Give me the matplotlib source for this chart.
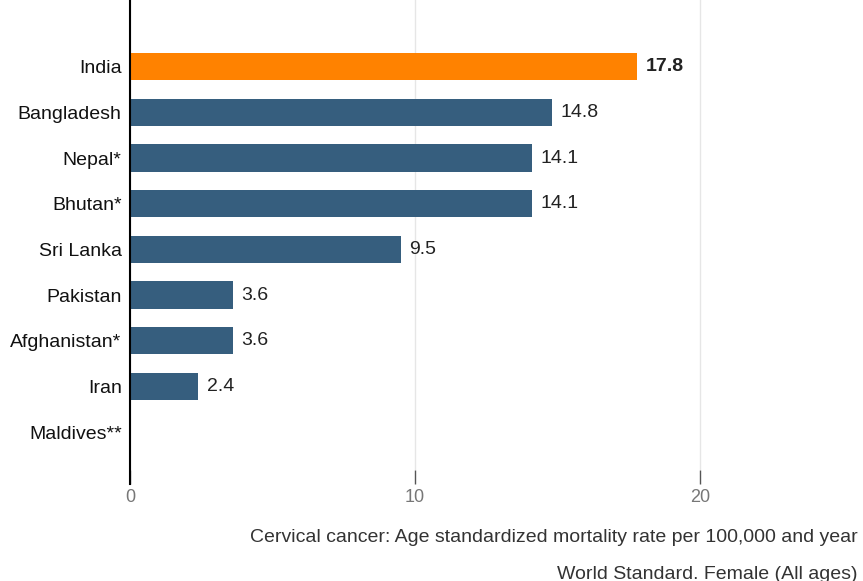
import matplotlib
matplotlib.use("Agg")
import matplotlib.pyplot as plt

countries = ["India", "Bangladesh", "Nepal*", "Bhutan*", "Sri Lanka", "Pakistan",
             "Afghanistan*", "Iran", "Maldives**"]
values = [17.8, 14.8, 14.1, 14.1, 9.5, 3.6, 3.6, 2.4, None]
value_labels = ["17.8", "14.8", "14.1", "14.1", "9.5", "3.6", "3.6", "2.4", ""]
highlight = "India"
xticks = [0, 10, 20]
caption1 = "Cervical cancer: Age standardized mortality rate per 100,000 and year"
caption2 = "World Standard. Female (All ages)"

plt.rcParams['font.family'] = ['Liberation Sans', 'DejaVu Sans']

fig = plt.figure(figsize=(8.63, 5.81), dpi=100)
ax = fig.add_axes([0.1506, 0.191, 0.845, 0.809])

pos = list(range(len(countries)))
for i, (c, v, lab) in enumerate(zip(countries, values, value_labels)):
    if v is None:
        continue
    col = "#FF8200" if c == highlight else "#365E7E"
    ax.barh(i, v, height=0.6, color=col, zorder=2)
    ax.text(v + 0.3, i, lab, va="center", ha="left", fontsize=14,
            color="#222222", fontweight="bold" if c == highlight else "normal")

ax.set_yticks(pos)
ax.set_yticklabels(countries, fontsize=14, color="#111111")
ax.set_ylim(8.83, -1.46)
ax.set_xlim(0, 25.58)
ax.set_xticks(xticks)
ax.set_xticklabels([str(t) for t in xticks], fontsize=13, color="#777777")
ax.tick_params(axis="y", length=0, pad=6)
ax.tick_params(axis="x", length=10, width=1, color="#555555", pad=4, direction="out")
ax.xaxis.grid(True, color="#e6e6e6", linewidth=1, zorder=0)
for s in ["top", "right", "bottom"]:
    ax.spines[s].set_visible(False)
ax.spines["left"].set_color("black")
ax.spines["left"].set_linewidth(1.5)
ax.spines["left"].set_bounds(8.83 + 0.3, -1.46)

fig.text(0.994, 0.075, caption1, ha="right", va="center", fontsize=14, color="#333333")
fig.text(0.994, 0.012, caption2, ha="right", va="center", fontsize=14, color="#333333")

fig.savefig("out.png", dpi=100)
